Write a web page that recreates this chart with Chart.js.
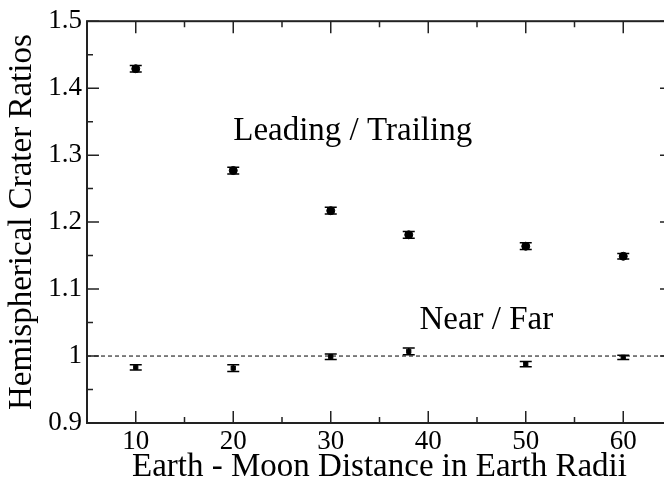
<!DOCTYPE html>
<html>
<head>
<meta charset="utf-8">
<script src="https://cdn.jsdelivr.net/npm/chart.js@4"></script>
<style>
  html, body { margin: 0; padding: 0; background: #fff; overflow: hidden; }
  #wrap { width: 690px; height: 481px; }
</style>
</head>
<body>
<div id="wrap"><canvas id="craterChart"></canvas></div>
<script>
// Earth-Moon distance (Earth radii)
const distances = [10, 20, 30, 38, 50, 60];
// leading / trailing crater ratio and its error
const leadTrail = [1.429, 1.277, 1.217, 1.181, 1.164, 1.149];
const leadTrailErr = [0.005, 0.005, 0.005, 0.005, 0.005, 0.004];
// near / far crater ratio and its error
const nearFar = [0.983, 0.982, 0.999, 1.007, 0.988, 0.998];
const nearFarErr = [0.004, 0.005, 0.004, 0.005, 0.004, 0.003];

const xMajor = [10, 20, 30, 40, 50, 60];
const xMinor = [5, 15, 25, 35, 45, 55, 65];
const yMajor = [0.9, 1.0, 1.1, 1.2, 1.3, 1.4, 1.5];
const yMinor = [0.95, 1.05, 1.15, 1.25, 1.35, 1.45];

// text labels placed in data coordinates
const notes = [
    { text: 'Leading / Trailing', x: 20.0, y: 1.336 },
    { text: 'Near / Far', x: 39.1, y: 1.054 },
];

const FONT = '"Liberation Serif", "Times New Roman", serif';

// error bars, inward ticks, frame, notes
const framePlugin = {
    id: 'framePlugin',
    afterDatasetsDraw(chart) {
        const ctx = chart.ctx;
        const xs = chart.scales.x, ys = chart.scales.y;
        const a = chart.chartArea;
        ctx.save();
        ctx.strokeStyle = '#000';
        ctx.lineWidth = 1.5;
        // error bars
        const drawErr = (vals, errs) => {
            vals.forEach((v, i) => {
                const px = xs.getPixelForValue(distances[i]);
                const top = ys.getPixelForValue(v + errs[i]);
                const bot = ys.getPixelForValue(v - errs[i]);
                ctx.beginPath();
                ctx.moveTo(px, top); ctx.lineTo(px, bot);
                ctx.moveTo(px - 6, top); ctx.lineTo(px + 6, top);
                ctx.moveTo(px - 6, bot); ctx.lineTo(px + 6, bot);
                ctx.stroke();
            });
        };
        drawErr(leadTrail, leadTrailErr);
        drawErr(nearFar, nearFarErr);

        // frame
        ctx.lineWidth = 2;
        ctx.strokeStyle = '#222';
        ctx.strokeRect(a.left, a.top, a.right - a.left, a.bottom - a.top);

        // ticks
        ctx.lineWidth = 1.5;
        const tick = (vals, len) => {
            vals.forEach(v => {
                const px = xs.getPixelForValue(v);
                ctx.beginPath();
                ctx.moveTo(px, a.bottom); ctx.lineTo(px, a.bottom - len);
                ctx.moveTo(px, a.top); ctx.lineTo(px, a.top + len);
                ctx.stroke();
            });
        };
        const ytick = (vals, len) => {
            vals.forEach(v => {
                const py = ys.getPixelForValue(v);
                ctx.beginPath();
                ctx.moveTo(a.left, py); ctx.lineTo(a.left + len, py);
                ctx.moveTo(a.right, py); ctx.lineTo(a.right - len, py);
                ctx.stroke();
            });
        };
        tick(xMajor, 12); tick(xMinor, 6);
        ytick(yMajor, 12); ytick(yMinor, 6);

        // notes
        ctx.fillStyle = '#000';
        ctx.font = '33px ' + FONT;
        ctx.textBaseline = 'middle';
        ctx.textAlign = 'left';
        notes.forEach(n => {
            ctx.fillText(n.text, xs.getPixelForValue(n.x), ys.getPixelForValue(n.y));
        });
        ctx.restore();
    }
};

new Chart(document.getElementById('craterChart'), {
    type: 'scatter',
    data: {
        datasets: [
            {
                label: 'Reference 1',
                type: 'line',
                data: [{ x: 5, y: 1 }, { x: 65, y: 1 }],
                borderColor: '#000',
                borderWidth: 1,
                borderDash: [4, 3],
                pointRadius: 0,
                fill: false,
            },
            {
                label: 'Leading / Trailing',
                data: distances.map((d, i) => ({ x: d, y: leadTrail[i] })),
                pointStyle: 'circle',
                pointRadius: 4,
                backgroundColor: '#000',
                borderColor: '#000',
            },
            {
                label: 'Near / Far',
                data: distances.map((d, i) => ({ x: d, y: nearFar[i] })),
                pointStyle: 'rect',
                pointRadius: 3,
                backgroundColor: '#000',
                borderColor: '#000',
            },
        ]
    },
    options: {
        responsive: true,
        maintainAspectRatio: false,
        animation: false,
        layout: { padding: { top: 15, right: 18, left: 0, bottom: 0 } },
        plugins: { legend: { display: false }, tooltip: { enabled: false } },
        scales: {
            x: {
                type: 'linear',
                min: 5, max: 65,
                afterBuildTicks: s => { s.ticks = xMajor.map(v => ({ value: v })); },
                afterFit: s => { s.height = 58; },
                grid: { display: false, drawTicks: false },
                border: { display: false },
                ticks: { color: '#000', padding: 3, font: { family: FONT, size: 27 } },
                title: {
                    display: true,
                    text: 'Earth - Moon Distance in Earth Radii',
                    color: '#000',
                    font: { family: FONT, size: 33, lineHeight: 1 },
                    padding: { top: 0, bottom: -3 },
                },
            },
            y: {
                type: 'linear',
                min: 0.9, max: 1.5,
                afterBuildTicks: s => { s.ticks = yMajor.map(v => ({ value: v })); },
                afterFit: s => { s.width = 87; },
                grid: { display: false, drawTicks: false },
                border: { display: false },
                ticks: {
                    color: '#000', padding: 5,
                    font: { family: FONT, size: 27 },
                    callback: v => (Math.abs(v - 1) < 1e-9 ? '1' : v.toFixed(1)),
                },
                title: {
                    display: true,
                    text: 'Hemispherical Crater Ratios',
                    color: '#000',
                    font: { family: FONT, size: 33, lineHeight: 1 },
                    padding: { top: 6, bottom: 0 },
                },
            },
        },
    },
    plugins: [framePlugin],
});
</script>
</body>
</html>
